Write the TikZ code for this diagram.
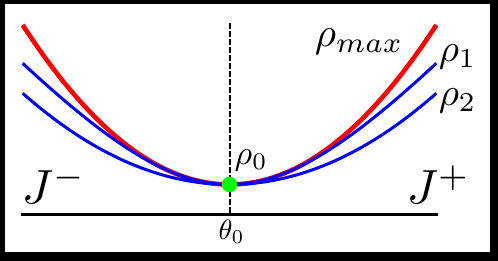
\documentclass[tikz,border=0pt]{standalone}
\begin{document}
\begin{tikzpicture}[x=0.5pt, y=-0.5pt,
    lbl/.style={inner sep=0pt, anchor=base west},
    bigtext/.style={scale=1.95},
    hugetext/.style={scale=2.4},
    curve/.style={domain=-206.8:206.8, samples=100}]
    % frame
    \fill[black] (0,0) rectangle (498,261);
    \fill[white] (4.5,4.5) rectangle (490,252.5);

    \coordinate (axisleft) at (21,215);
    \coordinate (axisright) at (438,215);
    \coordinate (foot) at (229.5,215);
    \coordinate (top) at (229.5,23);
    \coordinate (minpt) at (229.5,184.5);

    \draw[line width=1.5pt] (axisleft) -- (axisright);
    \draw[line width=1pt, dash pattern=on 2.8pt off 1.2pt] (top) -- (foot);

    % curves
    \draw[red, line width=2.3pt, curve] plot ({229.5+\x}, {184.5-159.5*(\x/206.8)*(\x/206.8)});
    \draw[blue, line width=1.5pt, curve] plot ({229.5+\x}, {184.5-172.4*(sqrt(1+(\x/150)*(\x/150))-1)});
    \draw[blue, line width=1.5pt, curve] plot ({229.5+\x}, {184.5-91.2*(\x/206.8)*(\x/206.8)});
    \fill[green] (minpt) circle (3.9pt);

    \node[lbl, scale=2.05] (rhomax) at (314,46.5) {$\rho_{max}$};
    \node[lbl, bigtext] (rhoone) at (438,62) {$\rho_1$};
    \node[lbl, bigtext] (rhotwo) at (438,105.5) {$\rho_2$};
    \node[lbl, scale=1.7] (rhozero) at (234,164.5) {$\rho_0$};
    \node[inner sep=0pt, anchor=base, scale=1.4] (thetazero) at (231.5,239.5) {$\theta_0$};
    \node[lbl, hugetext] (Jminus) at (21,204) {$J^-$};
    \node[lbl, hugetext] (Jplus) at (406,203.5) {$J^+$};
\end{tikzpicture}
\end{document}
